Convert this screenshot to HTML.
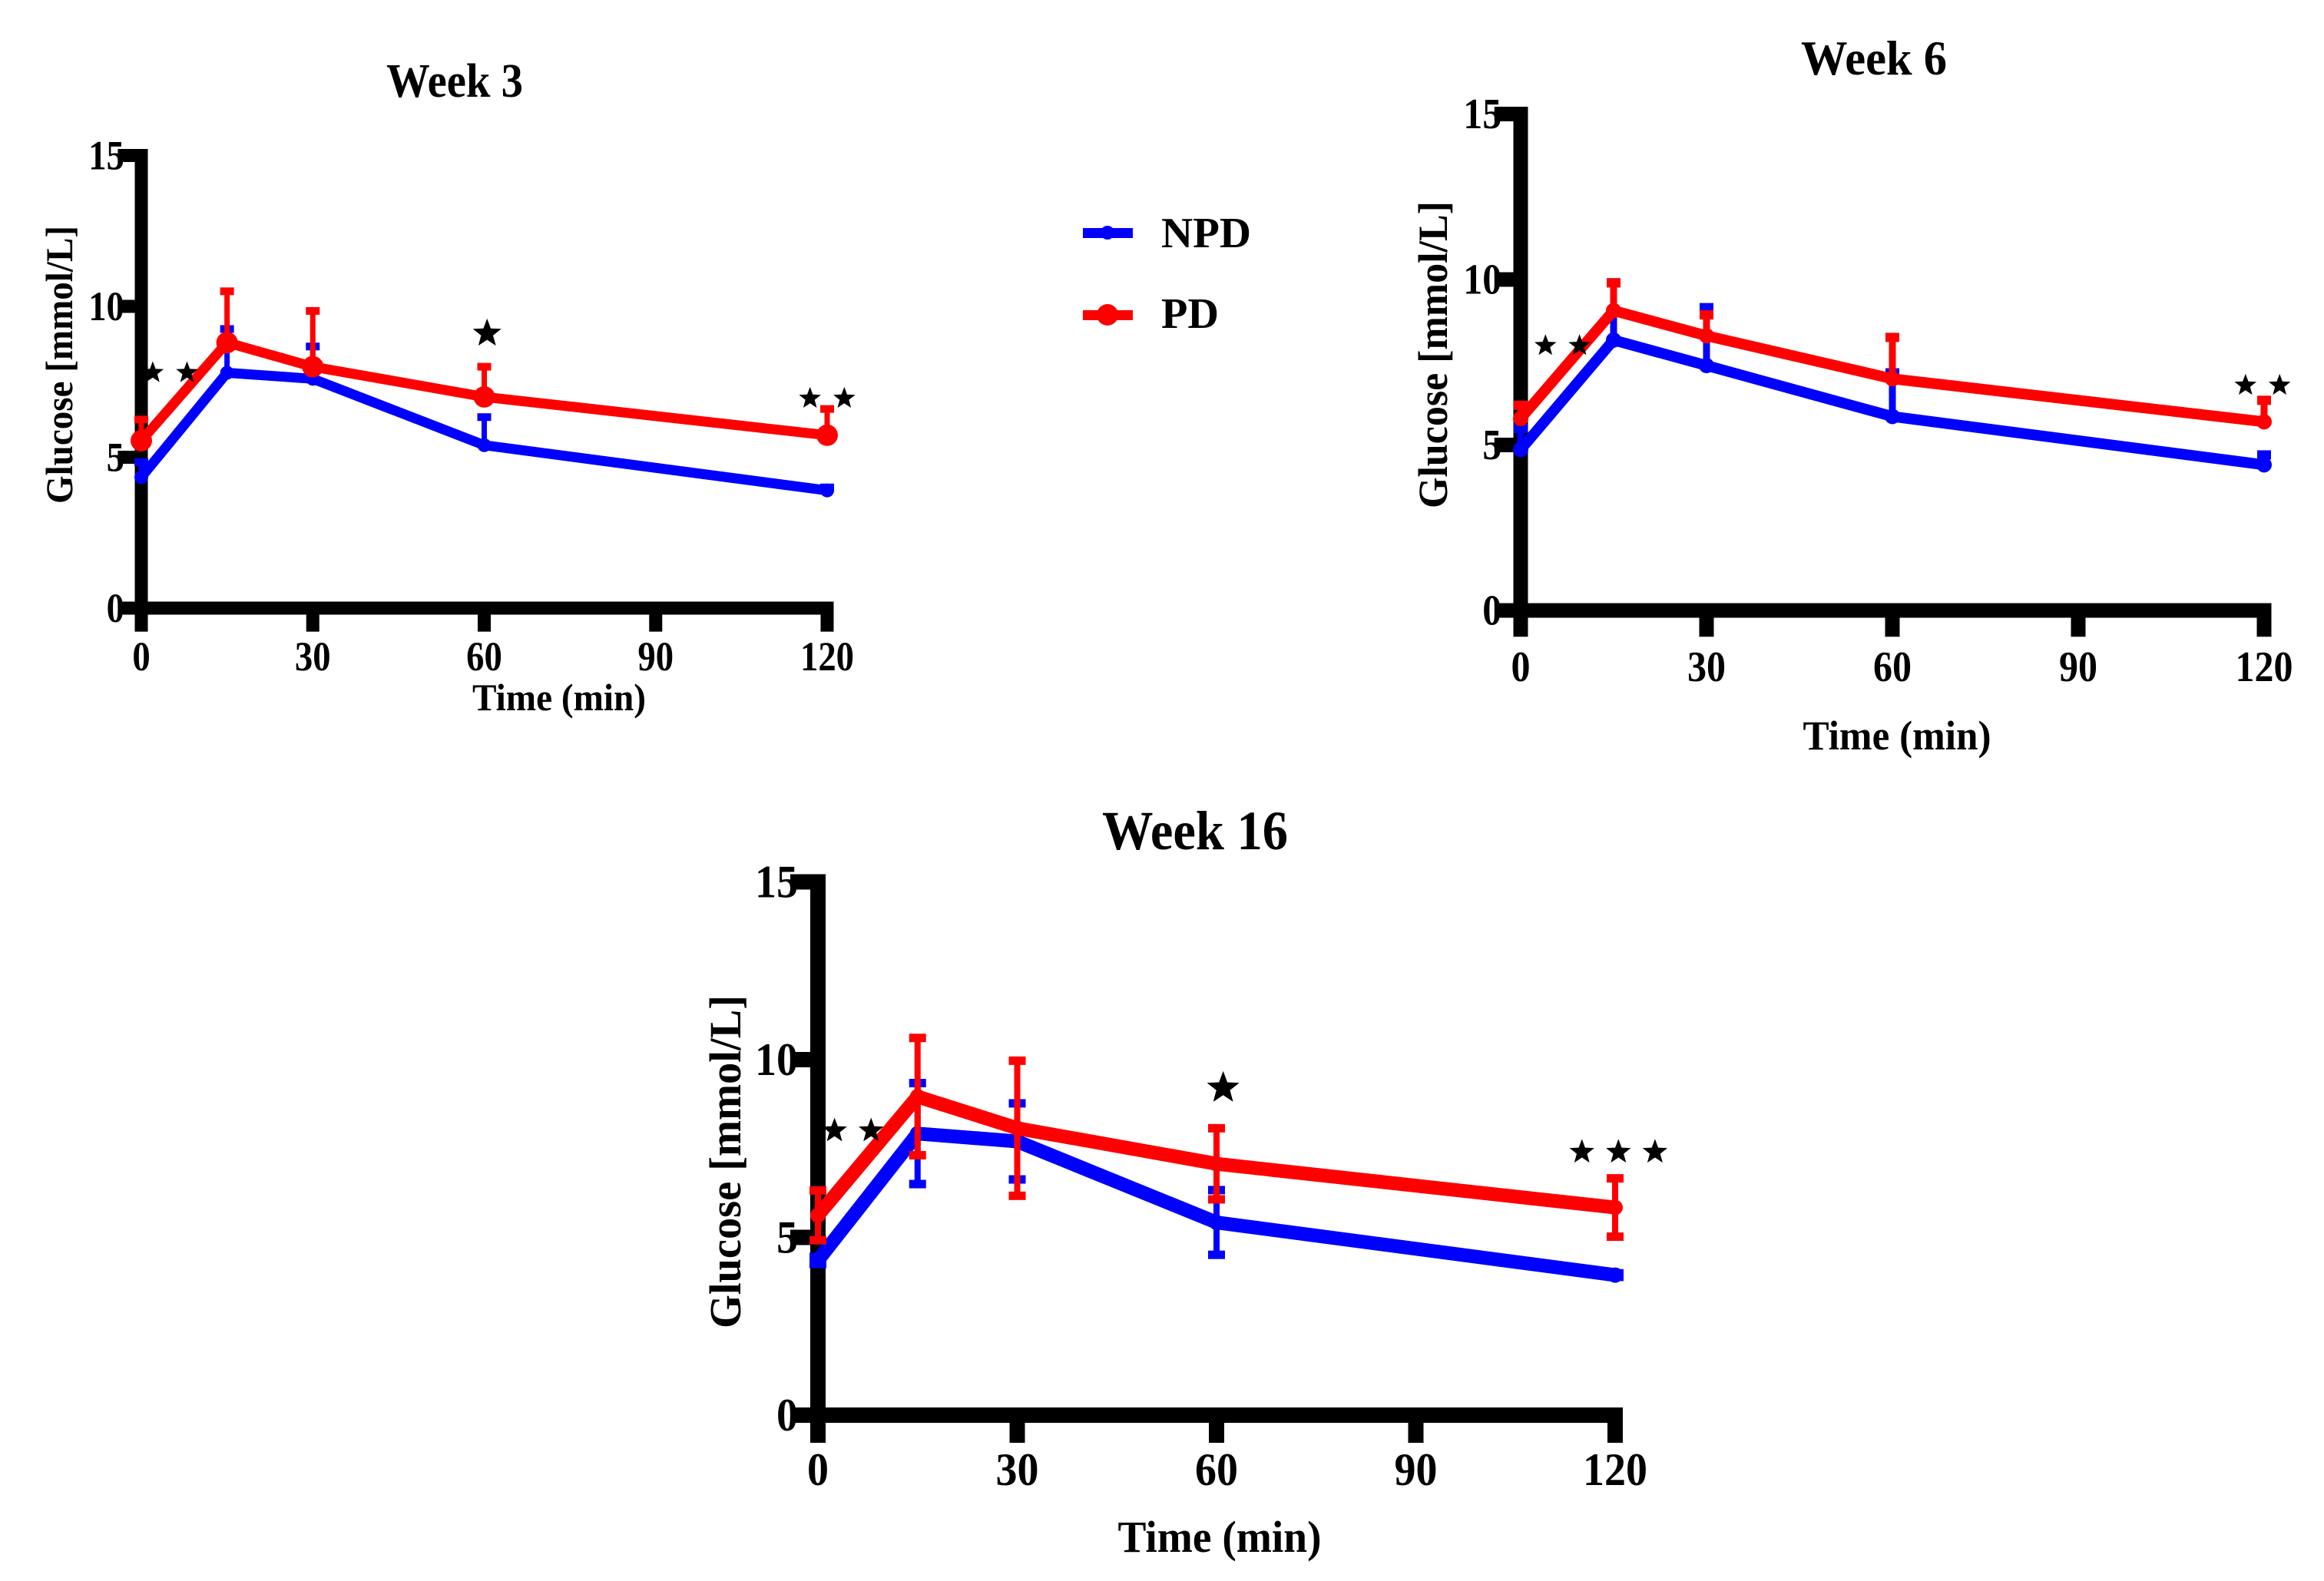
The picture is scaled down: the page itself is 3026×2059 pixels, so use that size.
<!DOCTYPE html>
<html><head><meta charset="utf-8"><style>
html,body{margin:0;padding:0;background:#fff;overflow:hidden;}
svg{display:block;}
text{font-family:"Liberation Serif",serif;font-weight:bold;fill:#000;}
</style></head><body>
<svg id="fig" width="3026" height="2059" viewBox="0 0 3026 2059" xmlns="http://www.w3.org/2000/svg">
<g id="legend">
  <g>
    <rect x="1410" y="297" width="65" height="13" fill="#0000ff"/>
    <circle cx="1442" cy="303" r="9" fill="#0000ff"/>
    <text x="1512" y="322" font-size="56" textLength="117" lengthAdjust="spacingAndGlyphs">NPD</text>
  </g>
  <g>
    <rect x="1410" y="404" width="65" height="13" fill="#ff0000"/>
    <circle cx="1442" cy="410" r="14" fill="#ff0000"/>
    <text x="1512" y="427" font-size="56" textLength="75" lengthAdjust="spacingAndGlyphs">PD</text>
  </g>
</g>
</svg>
<script>
// Shared categories
const times = [0, 15, 30, 60, 120];
const xTicks = [0, 30, 60, 90, 120];
const yTicks = [0, 5, 10, 15];
// Week 3
const w3Npd = [4.34, 7.8, 7.6, 5.4, 3.9];
const w3Pd = [5.55, 8.8, 8.0, 7.0, 5.73];
const w3NpdErr = [0.5, 1.45, 1.07, 0.93, 0.1];
const w3PdErr = [0.7, 1.7, 1.85, 1.0, 0.87];
const w3Stars = [[2, 7.8, 1], [8, 7.8, 1], [60.5, 9.1, 1], [117, 6.95, 1], [123, 6.95, 1]];
// Week 6
const w6Npd = [4.86, 8.17, 7.4, 5.86, 4.4];
const w6Pd = [5.8, 9.06, 8.3, 7.0, 5.7];
const w6NpdErr = [0.64, 1.73, 1.75, 1.32, 0.3];
const w6PdErr = [0.4, 0.84, 0.63, 1.25, 0.65];
const w6Stars = [[4, 8.0, 1], [9.5, 8.0, 1], [117, 6.8, 1], [122.5, 6.8, 1]];
// Week 16
const w16Npd = [4.35, 7.92, 7.7, 5.42, 3.94];
const w16Pd = [5.62, 8.96, 8.07, 7.07, 5.84];
const w16NpdErr = [0.1, 1.42, 1.07, 0.91, 0.05];
const w16PdErr = [0.7, 1.65, 1.9, 1.0, 0.82];
const w16Stars = [[2.5, 8.0, 1], [8, 8.0, 1], [61, 9.2, 1], [115, 7.4, 1], [120.5, 7.4, 1], [126, 7.4, 1]];

const NS = 'http://www.w3.org/2000/svg';
const svg = document.getElementById('fig');
function mk(tag, attrs, parent) {
  const e = document.createElementNS(NS, tag);
  for (const k in attrs) e.setAttribute(k, attrs[k]);
  (parent || svg).appendChild(e);
  return e;
}
function star(cx, cy, r) {
  let p = [];
  for (let i = 0; i < 10; i++) {
    const a = -Math.PI / 2 + i * Math.PI / 5;
    const rr = i % 2 ? r * 0.42 : r;
    p.push((cx + rr * Math.cos(a)).toFixed(1) + ',' + (cy + rr * Math.sin(a)).toFixed(1));
  }
  return p.join(' ');
}
function panel(cfg) {
  const g = mk('g', {});
  
  
  const X = t => cfg.x0 + (t / 120) * (cfg.x120 - cfg.x0);
  const Y = v => cfg.y0 - v * cfg.unit;
  const lw = cfg.axisW;
  const yAxis = mk('line', {x1: X(0), y1: Y(15) - lw / 2, x2: X(0), y2: Y(0) + lw / 2, stroke: '#000', 'stroke-width': lw}, g);
  
  
  const xAxis = mk('line', {x1: X(0) - lw / 2, y1: Y(0), x2: X(120) + lw / 2, y2: Y(0), stroke: '#000', 'stroke-width': lw}, g);
  
  
  const cw = cfg.w120 / 3;
  yTicks.forEach(v => {
    const t = mk('line', {x1: X(0) - lw * 1.8, y1: Y(v), x2: X(0), y2: Y(v), stroke: '#000', 'stroke-width': lw}, g);
    
    
    const s = String(v);
    const l = mk('text', {x: X(0) - lw * 1.3, y: Y(v) + cfg.tickFs * 0.33, 'font-size': cfg.tickFs, 'text-anchor': 'end', textLength: cw * s.length, lengthAdjust: 'spacingAndGlyphs'}, g);
    l.textContent = s;
    
    
  });
  xTicks.forEach(v => {
    const t = mk('line', {x1: X(v), y1: Y(0), x2: X(v), y2: Y(0) + lw * 1.8, stroke: '#000', 'stroke-width': lw}, g);
    
    
    const s = String(v);
    const l = mk('text', {x: X(v), y: cfg.tickBase, 'font-size': cfg.tickFs, 'text-anchor': 'middle', textLength: cw * s.length, lengthAdjust: 'spacingAndGlyphs'}, g);
    l.textContent = s;
    
    
  });
  const ti = mk('text', {x: cfg.titleX, y: cfg.titleY, 'font-size': cfg.titleFs, 'text-anchor': 'middle', textLength: cfg.titleW, lengthAdjust: 'spacingAndGlyphs'}, g);
  ti.textContent = cfg.title;
  
  
  const xl = mk('text', {x: cfg.xlX, y: cfg.xlY, 'font-size': cfg.labFs, 'text-anchor': 'middle', textLength: cfg.xlW, lengthAdjust: 'spacingAndGlyphs'}, g);
  xl.textContent = 'Time (min)';
  
  
  const yl = mk('text', {x: 0, y: 0, 'font-size': cfg.labFs, 'text-anchor': 'middle', textLength: cfg.ylW, lengthAdjust: 'spacingAndGlyphs', transform: `translate(${cfg.ylX},${cfg.ylY}) rotate(-90)`}, g);
  yl.textContent = 'Glucose [mmol/L]';
  
  
  const series = [
    {vals: cfg.npd, err: cfg.npdErr, col: '#0000ff', r: cfg.rN, name: 'npd'},
    {vals: cfg.pd, err: cfg.pdErr, col: '#ff0000', r: cfg.rP, name: 'pd'}
  ];
  series.forEach(s => {
    const sg = mk('g', {}, g);
    
    
    s.vals.forEach((v, i) => {
      const x = X(times[i]);
      const top = Y(v + s.err[i]);
      const bot = cfg.sym ? Y(v - s.err[i]) : Y(v);
      const e = mk('line', {x1: x, y1: top, x2: x, y2: bot, stroke: s.col, 'stroke-width': cfg.errW}, sg);
      
      
      const c1 = mk('rect', {x: x - cfg.capW / 2, y: top - cfg.capH / 2, width: cfg.capW, height: cfg.capH, fill: s.col}, sg);
      
      
      if (cfg.sym) {
        const c2 = mk('rect', {x: x - cfg.capW / 2, y: bot - cfg.capH / 2, width: cfg.capW, height: cfg.capH, fill: s.col}, sg);
        
        
      }
    });
    const pts = s.vals.map((v, i) => X(times[i]) + ',' + Y(v)).join(' ');
    const pl = mk('polyline', {points: pts, fill: 'none', stroke: s.col, 'stroke-width': cfg.lineW, 'stroke-linejoin': 'round'}, sg);
    
    
    s.vals.forEach((v, i) => {
      const c = mk('circle', {cx: X(times[i]), cy: Y(v), r: s.r, fill: s.col}, sg);
      
      
    });
  });
  cfg.stars.forEach(st => {
    const p = mk('polygon', {points: star(X(st[0]), Y(st[1]), cfg.starR * st[2] * (st[0] > 50 && st[0] < 70 ? 1.3 : 1)), fill: '#000'}, g);
    
    
  });
}
panel({name: 'panel-week-3', title: 'Week 3', x0: 184, x120: 1077, y0: 792, unit: 39.3,
  axisW: 17, tickFs: 54, w120: 70, tickBase: 873, titleX: 592, titleY: 126, titleFs: 62, titleW: 178,
  labFs: 50, xlX: 728, xlY: 925, xlW: 226, ylX: 94, ylY: 475, ylW: 362,
  npd: w3Npd, pd: w3Pd, npdErr: w3NpdErr, pdErr: w3PdErr, sym: false, stars: w3Stars,
  lineW: 13, errW: 7, capW: 18, capH: 10, rN: 9, rP: 14, starR: 15});
panel({name: 'panel-week-6', title: 'Week 6', x0: 1980, x120: 2948, y0: 795, unit: 43.1,
  axisW: 19, tickFs: 56, w120: 75, tickBase: 887, titleX: 2440, titleY: 97, titleFs: 64, titleW: 190,
  labFs: 54, xlX: 2470, xlY: 976, xlW: 245, ylX: 1884, ylY: 462, ylW: 400,
  npd: w6Npd, pd: w6Pd, npdErr: w6NpdErr, pdErr: w6PdErr, sym: false, stars: w6Stars,
  lineW: 14, errW: 9, capW: 18, capH: 12, rN: 10, rP: 10, starR: 15});
panel({name: 'panel-week-16', title: 'Week 16', x0: 1065, x120: 2103, y0: 1843, unit: 46.3,
  axisW: 20, tickFs: 60, w120: 84, tickBase: 1934, titleX: 1556, titleY: 1106, titleFs: 72, titleW: 242,
  labFs: 58, xlX: 1588, xlY: 2021, xlW: 265, ylX: 964, ylY: 1513, ylW: 434,
  npd: w16Npd, pd: w16Pd, npdErr: w16NpdErr, pdErr: w16PdErr, sym: true, stars: w16Stars,
  lineW: 18, errW: 8, capW: 22, capH: 11, rN: 10, rP: 10, starR: 17});
</script>
</body></html>
